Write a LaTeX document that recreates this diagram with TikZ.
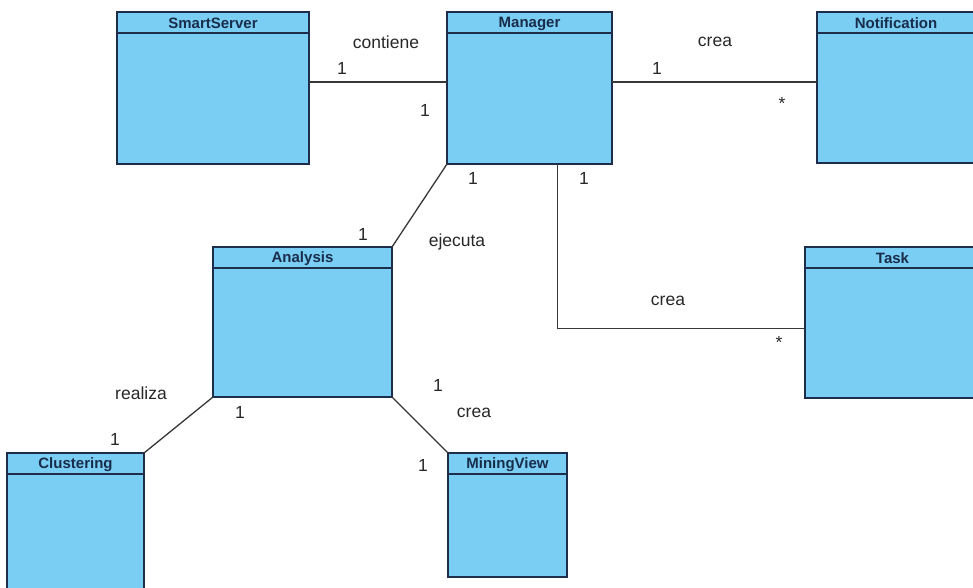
\documentclass[tikz,border=0pt]{standalone}
\usepackage{fontspec}
\setmainfont{Liberation Sans}
\usetikzlibrary{calc}
\definecolor{classfill}{RGB}{122,205,243}
\definecolor{classborder}{RGB}{30,45,75}
\definecolor{titletext}{RGB}{25,45,75}
\definecolor{linecol}{RGB}{55,55,55}
\definecolor{labelcol}{RGB}{40,40,40}
\tikzset{
  classbox/.style={draw=classborder, fill=classfill, line width=1.3pt, anchor=north west, inner sep=0pt, outer sep=0pt},
  classtitle/.style={font=\fontsize{15}{17}\selectfont\bfseries, text=titletext, inner sep=0pt},
  assoc/.style={draw=linecol, line width=1.3pt},
  lbl/.style={font=\fontsize{17.5}{20}\selectfont, text=labelcol, inner sep=0pt},
}
\newcommand\umlclass[6]{%
  \node[classbox, minimum width=#4pt, minimum height=#5pt] (#1) at (#2,#3) {};
  \draw[classborder, line width=1.2pt] ([yshift=-21pt]#1.north west) -- ([yshift=-21pt]#1.north east);
  \node[classtitle] (#1-t) at ([yshift=-11.5pt]#1.north) {#6};
}
\begin{document}
\begin{tikzpicture}[x=1pt,y=-1pt]
\path[use as bounding box] (0,0) rectangle (973,587);
\clip (0,0) rectangle (973,587);
\fill[white] (0,0) rectangle (973,587);

\umlclass{sm}{117}{12}{192}{152}{SmartServer}
\umlclass{mg}{447}{12}{165}{152}{Manager}
\umlclass{nt}{817}{12}{158}{151}{Notification}
\umlclass{tk}{805}{247}{175}{151}{Task}
\umlclass{an}{213}{247}{179}{150}{Analysis}
\umlclass{cl}{7}{453}{137}{150}{Clustering}
\umlclass{mv}{448}{453}{119}{124}{MiningView}

\draw[assoc] ([yshift=6pt]sm.east) -- ([yshift=6pt]sm.east -| mg.west);
\draw[assoc] ([yshift=6pt]mg.east) -- ([yshift=6pt]mg.east -| nt.west);
\draw[assoc] (mg.south west) -- (an.north east);
\draw[assoc] ([xshift=28pt]mg.south) |- ([yshift=-6pt]tk.west);
\draw[assoc] (an.south west) -- (cl.north east);
\draw[assoc] (an.south east) -- (mv.north west);

\node[lbl] (l1) at (386,42) {contiene};
\node[lbl] (l2) at (342,68) {1};
\node[lbl] (l3) at (425,110) {1};
\node[lbl] (l4) at (715,42) {crea};
\node[lbl] (l5) at (657,68) {1};
\node[lbl] (l6) at (782,103) {*};
\node[lbl] (l7) at (473,178) {1};
\node[lbl] (l8) at (584,178) {1};
\node[lbl] (l9) at (363,234) {1};
\node[lbl] (l10) at (457,242) {ejecuta};
\node[lbl] (l11) at (668,301) {crea};
\node[lbl] (l12) at (779,342) {*};
\node[lbl] (l13) at (141,393) {realiza};
\node[lbl] (l14) at (240,412) {1};
\node[lbl] (l15) at (115,439) {1};
\node[lbl] (l16) at (438,385) {1};
\node[lbl] (l17) at (474,413) {crea};
\node[lbl] (l18) at (423,465) {1};
\end{tikzpicture}
\end{document}
